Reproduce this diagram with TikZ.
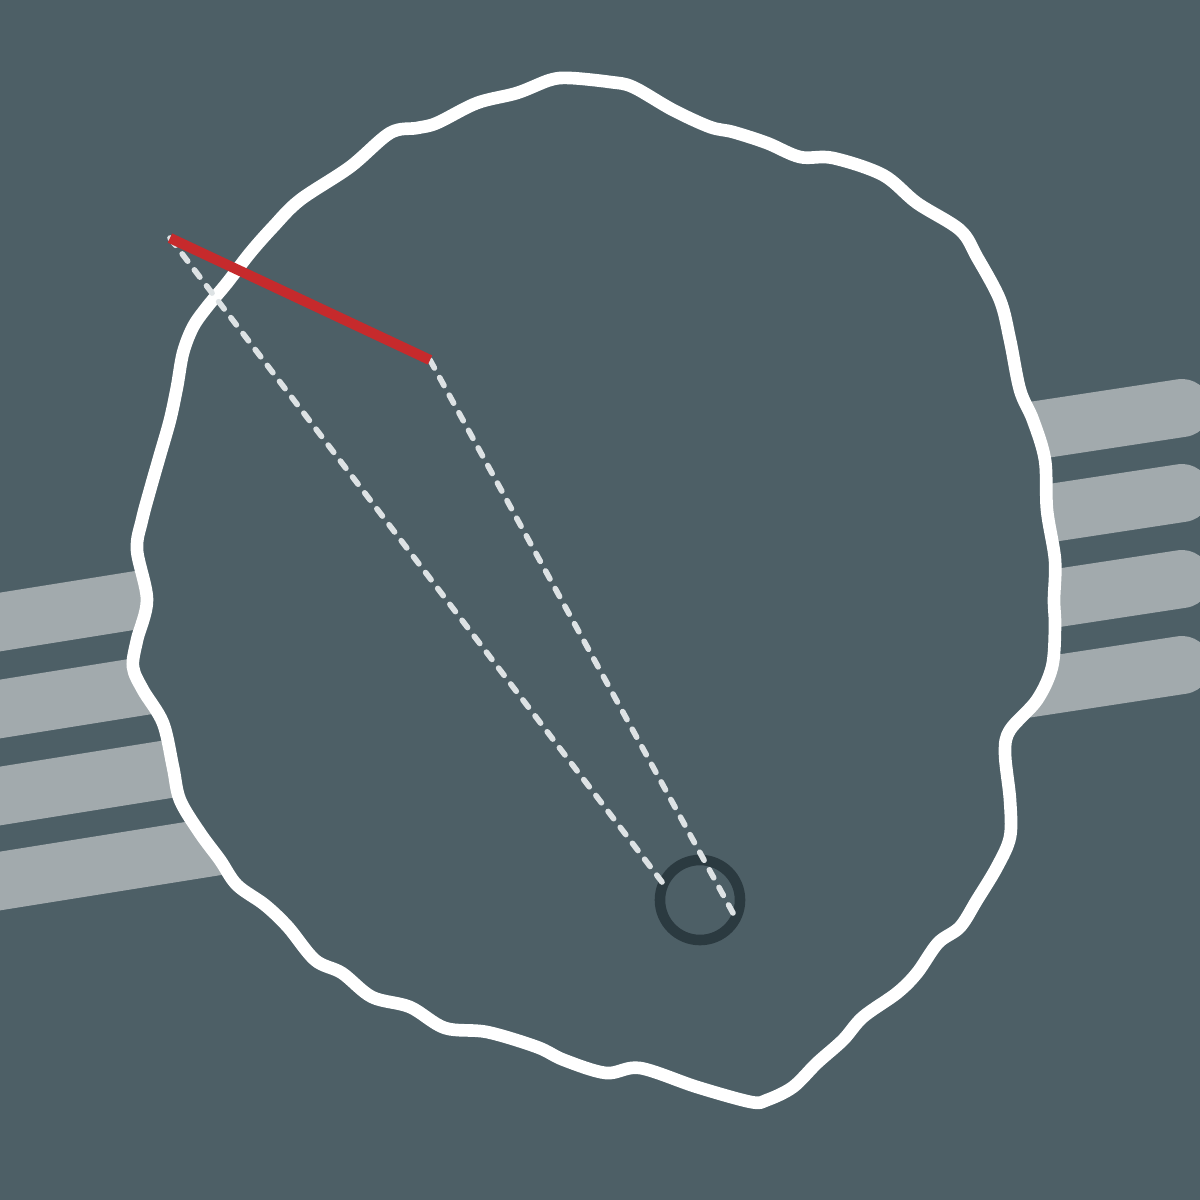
\documentclass[tikz,border=0pt]{standalone}
\usepackage{tikz}
\definecolor{slate}{HTML}{4D5F66}
\definecolor{stripegrey}{HTML}{A2AAAD}
\definecolor{dashgrey}{HTML}{DDE2E4}
\definecolor{ringdark}{HTML}{2B3A40}
\definecolor{armred}{HTML}{C62A2C}
\tikzset{stripe/.style={line width=16.5pt, line cap=round, color=stripegrey}}
\tikzset{outline/.style={line width=3.6pt, draw=white, fill=slate, line join=round}}
\tikzset{arm/.style={line width=2.9pt, color=armred}}
\tikzset{guide/.style={line width=1.6pt, dash pattern=on 2.6pt off 3.1pt, line cap=round, color=dashgrey}}
\tikzset{ring/.style={circle, draw=ringdark, line width=3pt, minimum size=0.8cm, inner sep=0pt}}

\begin{document}
\begin{tikzpicture}[x=0.01cm, y=-0.01cm]

    \useasboundingbox (0,0) rectangle (1200,1200);
    \fill[slate] (0,0) rectangle (1200,1200);

    % left and right bands
    \foreach \c in {622,709,796,881}
        \draw[stripe] (-30,\c+4.8) -- (300,\c-48);
    \foreach \c in {451,536,622,708}
        \draw[stripe] (900,\c) -- (1182,\c-43);

    % wavy rim
    \draw[outline] plot[smooth cycle, tension=0.55] coordinates {
        (570,78) (610,82) (633,87) (673,110) (710,127) (733,132) (767,143)
        (800,157) (833,158) (883,175) (917,203) (960,230) (977,257) (1000,300)
        (1010,340) (1020,390) (1033,420) (1045,460) (1047,510) (1055,560)
        (1054,600) (1055,627) (1052,667) (1037,700) (1010,730) (1005,753)
        (1010,800) (1010,837) (997,867) (977,900) (960,927) (938,943) (917,973)
        (897,993) (863,1017) (843,1040) (817,1063) (793,1087) (767,1100)
        (751,1102) (697,1087) (640,1068) (606,1073) (564,1060) (537,1047)
        (487,1032) (445,1028) (410,1007) (372,997) (342,973) (315,960)
        (288,927) (265,905) (237,885) (220,860) (200,833) (180,800) (173,767)
        (163,723) (143,690) (133,667) (137,640) (147,600) (137,550) (142,520)
        (150,490) (160,455) (170,420) (177,387) (183,353) (193,327) (207,307)
        (227,283) (250,253) (273,227) (300,200) (350,167) (390,133) (417,128)
        (437,123) (477,103) (517,93) (550,80)};

    \coordinate (tip)  at (170,238);
    \coordinate (knee) at (430,360);
    \node[ring] (pivot) at (700,900) {};
    \coordinate (endA) at (662,882);
    \coordinate (endB) at (733,913);

    \draw[guide] (tip) -- (endA);
    \draw[guide] (knee) -- (endB);
    \draw[arm] (tip) -- (knee);
\end{tikzpicture}
\end{document}
